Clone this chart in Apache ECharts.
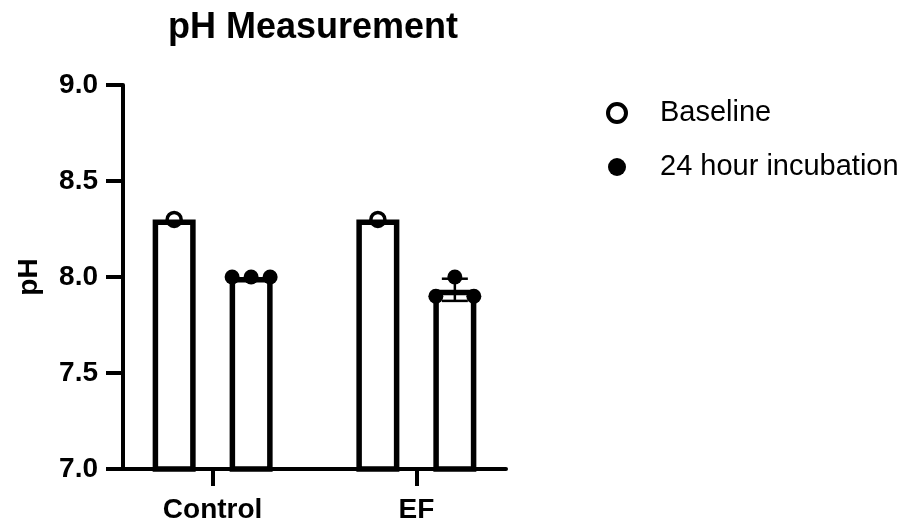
<!DOCTYPE html>
<html><head><meta charset="utf-8">
<script src="https://cdn.jsdelivr.net/npm/echarts@6/dist/echarts.min.js"></script>
<style>html,body{margin:0;padding:0;background:#fff}#c{width:914px;height:525px}</style>
</head><body><div id="c"></div>
<script>
const categories = ['Control', 'EF'];
const seriesNames = ['Baseline', '24 hour incubation'];
const baselineValues = [[8.3], [8.3]];
const incubationValues = [[8.0, 8.0, 8.0], [7.9, 8.0, 7.9]];
const yTickLabels = ['7.0', '7.5', '8.0', '8.5', '9.0'];

const FONT = '"Liberation Sans", Arial, Helvetica, sans-serif';
const BAR_W = 43, BAR_GAP = 0.79;
const groupOffset = (BAR_W * (1 + BAR_GAP)) / 2;
const JITTER = 19;

function mean(a) { return a.reduce((s, v) => s + v, 0) / a.length; }
function sd(a) {
  if (a.length < 2) return 0;
  const m = mean(a);
  return Math.sqrt(a.reduce((s, v) => s + (v - m) * (v - m), 0) / (a.length - 1));
}

const groups = [baselineValues, incubationValues];

const barSeries = groups.map((g, si) => ({
  type: 'bar', name: seriesNames[si] + ' mean',
  barWidth: BAR_W, barGap: (BAR_GAP * 100) + '%',
  data: g.map((reps, ci) => [ci, mean(reps)]),
  itemStyle: { color: '#fff', borderColor: '#000', borderWidth: 5.5 },
  z: 2, silent: true
}));

const dotSeries = groups.map((g, si) => {
  const side = si === 0 ? -1 : 1;
  const data = [];
  g.forEach((reps, ci) => reps.forEach((v, ri) => {
    const j = (ri - (reps.length - 1) / 2) * JITTER;
    data.push({ value: [ci, v], symbolOffset: [side * groupOffset + j, 0] });
  }));
  return {
    type: 'scatter', name: seriesNames[si], data, symbol: 'circle',
    symbolSize: si === 0 ? 14 : 15,
    itemStyle: si === 0
      ? { color: 'rgba(255,255,255,0)', borderColor: '#000', borderWidth: 3.5, opacity: 1 }
      : { color: '#000', opacity: 1 },
    z: 5, silent: true
  };
});

const errSeries = {
  type: 'custom', name: 'err', silent: true, z: 4,
  encode: { x: 0, y: 1 },
  data: incubationValues.map((r, ci) => [ci, mean(r), sd(r)]),
  renderItem: (params, api) => {
    const ci = api.value(0), m = api.value(1), s = api.value(2);
    if (!(s > 0)) return null;
    const top = api.coord([ci, m + s]), bot = api.coord([ci, m - s]);
    const x = top[0] + groupOffset;
    const cap = 13;
    const st = { stroke: '#000', lineWidth: 2.5 };
    return { type: 'group', children: [
      { type: 'line', shape: { x1: x, y1: top[1], x2: x, y2: bot[1] }, style: st },
      { type: 'line', shape: { x1: x - cap, y1: top[1], x2: x + cap, y2: top[1] }, style: st },
      { type: 'line', shape: { x1: x - cap, y1: bot[1], x2: x + cap, y2: bot[1] }, style: st }
    ] };
  }
};

const chart = echarts.init(document.getElementById('c'));
chart.setOption({
  animation: false,
  backgroundColor: '#fff',
  title: {
    text: 'pH Measurement', left: 163, top: 5,
    textStyle: { fontFamily: FONT, fontSize: 36, fontWeight: 'bold', color: '#000' }
  },
  legend: {
    orient: 'vertical', left: 601, top: 93,
    itemWidth: 18, itemHeight: 18, itemGap: 24,
    data: [
      { name: seriesNames[0], icon: 'circle', itemStyle: { color: '#fff', borderColor: '#000', borderWidth: 4 } },
      { name: seriesNames[1], icon: 'circle', itemStyle: { color: '#000', borderWidth: 0 } }
    ],
    textStyle: { fontFamily: FONT, fontSize: 29, color: '#000', lineHeight: 30, padding: [0, 0, 0, 29] },
    selectedMode: false
  },
  grid: { left: 123, top: 85, width: 383, height: 384, containLabel: false, outerBoundsMode: 'none' },
  xAxis: {
    type: 'value', min: -0.44, max: 1.44,
    axisLine: { onZero: false, lineStyle: { color: '#000', width: 4 } },
    axisTick: { show: true, customValues: [0, 1], length: 17, lineStyle: { color: '#000', width: 4 } },
    axisLabel: {
      customValues: [0, 1], margin: 27,
      formatter: v => categories[Math.round(v)] ?? '',
      fontFamily: FONT, fontSize: 28, fontWeight: 'bold', color: '#000'
    },
    splitLine: { show: false }
  },
  yAxis: {
    type: 'value', min: 7, max: 9, interval: 0.5,
    name: 'pH', nameLocation: 'middle', nameGap: 80, nameRotate: 90,
    nameTextStyle: { fontFamily: FONT, fontSize: 28, fontWeight: 'bold', color: '#000' },
    axisLine: { show: true, onZero: false, lineStyle: { color: '#000', width: 4 } },
    axisTick: { show: true, length: 17, lineStyle: { color: '#000', width: 4 } },
    axisLabel: {
      margin: 25,
      formatter: v => yTickLabels[Math.round((v - 7) / 0.5)] ?? v.toFixed(1),
      fontFamily: FONT, fontSize: 28, fontWeight: 'bold', color: '#000'
    },
    splitLine: { show: false }
  },
  series: [...barSeries, errSeries, ...dotSeries]
});
</script>
</body></html>
